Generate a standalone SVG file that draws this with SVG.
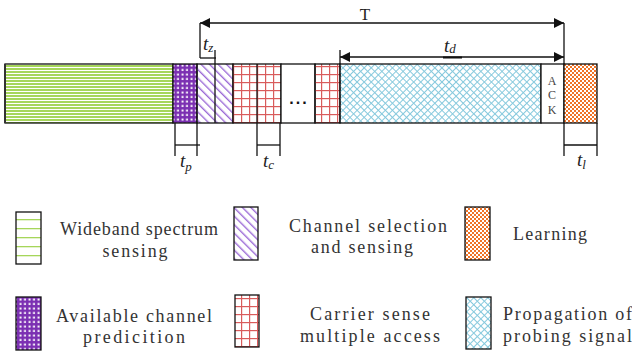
<svg xmlns="http://www.w3.org/2000/svg" width="632" height="351" viewBox="0 0 632 351">
  <defs>
    <!-- fill patterns for each phase -->
    <pattern id="pGreen" width="4" height="3" patternUnits="userSpaceOnUse" y="65">
      <rect width="4" height="2" fill="#a6d65a"/>
    </pattern>
    <pattern id="pGreenL" width="4" height="9" patternUnits="userSpaceOnUse" y="212">
      <rect y="7" width="4" height="1.3" fill="#a6d65a"/>
    </pattern>
    <pattern id="pDots" width="4.5" height="4.5" patternUnits="userSpaceOnUse">
      <rect width="4.5" height="4.5" fill="#7b2fb2"/>
      <rect x="1.5" y="1.5" width="2" height="2" fill="#ffffff"/>
    </pattern>
    <pattern id="pHatch" width="6" height="6" patternUnits="userSpaceOnUse" patternTransform="rotate(-45)">
      <rect x="0" y="0" width="1.4" height="6" fill="#9b6ad6"/>
    </pattern>
    <pattern id="pGrid" width="8" height="8" patternUnits="userSpaceOnUse" x="1" y="2">
      <rect x="0" y="0" width="1.2" height="8" fill="#d95b5b"/>
      <rect x="0" y="0" width="8" height="1.2" fill="#d95b5b"/>
    </pattern>
    <pattern id="pCross" width="5" height="5" patternUnits="userSpaceOnUse" patternTransform="rotate(45)">
      <rect x="0" y="0" width="1" height="5" fill="#86c9dd"/>
      <rect x="0" y="0" width="5" height="1" fill="#86c9dd"/>
    </pattern>
    <pattern id="pCheck" width="4" height="4" patternUnits="userSpaceOnUse">
      <rect width="4" height="4" fill="#ffffff"/>
      <rect width="2" height="2" fill="#f07326"/>
      <rect x="2" y="2" width="2" height="2" fill="#f07326"/>
    </pattern>
    <marker id="arr" viewBox="0 0 10 10" refX="10" refY="5" markerWidth="10" markerHeight="10" markerUnits="userSpaceOnUse" orient="auto-start-reverse">
      <path d="M0,0 L10,5 L0,10 z" fill="#111"/>
    </marker>
    <style>
      .edge { stroke: #111; stroke-width: 1.3; fill: none; }
      .seg { stroke: #111; stroke-width: 1.3; }
      .lbl { font-family: "Liberation Serif", "DejaVu Serif", serif; font-size: 18px; fill: #333; }
      .t { font-family: "Liberation Serif", serif; font-style: italic; font-size: 19px; fill: #222; }
      .sub { font-size: 13px; }
    </style>
  </defs>
  <rect width="632" height="351" fill="#ffffff"/>

  <!-- frame bar -->
  <g id="frame">
    <rect x="5" y="64" width="168" height="59" fill="url(#pGreen)" class="seg"/>
    <rect x="173" y="64" width="24" height="59" fill="url(#pDots)" class="seg"/>
    <rect x="197" y="64" width="36" height="59" fill="url(#pHatch)" class="seg"/>
    <line x1="215" y1="64" x2="215" y2="123" class="seg"/>
    <rect x="233" y="64" width="48" height="59" fill="url(#pGrid)" class="seg"/>
    <line x1="257" y1="64" x2="257" y2="123" class="seg"/>
    <rect x="281" y="64" width="34" height="59" fill="#ffffff" class="seg"/>
    <text x="299" y="104" text-anchor="middle" font-family="Liberation Sans, sans-serif" font-size="16" font-weight="bold" letter-spacing="2" fill="#111">...</text>
    <rect x="315" y="64" width="25" height="59" fill="url(#pGrid)" class="seg"/>
    <rect x="340" y="64" width="201" height="59" fill="url(#pCross)" class="seg"/>
    <rect x="541" y="64" width="23" height="59" fill="#ffffff" class="seg"/>
    <text font-family="Liberation Serif, serif" font-size="12" fill="#444" text-anchor="middle">
      <tspan x="552" y="85">A</tspan><tspan x="552" y="99">C</tspan><tspan x="552" y="114">K</tspan>
    </text>
    <rect x="564" y="64" width="33" height="59" fill="url(#pCheck)" class="seg"/>
    <line x1="5" y1="64" x2="5" y2="123" stroke="#333" stroke-width="2"/>
  </g>

  <!-- timing arrows and brackets -->
  <g id="connectors">
    <line x1="200" y1="23" x2="564" y2="23" class="edge" marker-start="url(#arr)" marker-end="url(#arr)"/>
    <line x1="200" y1="23" x2="200" y2="58" class="edge"/>
    <line x1="564" y1="23" x2="564" y2="64" class="edge"/>
    <line x1="200" y1="58" x2="216" y2="58" class="edge"/>
    <line x1="215" y1="50" x2="215" y2="64" class="edge"/>
    <line x1="340" y1="57" x2="564" y2="57" class="edge" marker-start="url(#arr)" marker-end="url(#arr)"/>
    <line x1="340" y1="50" x2="340" y2="64" class="edge"/>
    <rect x="443" y="56.5" width="19" height="2" fill="#111"/>
    <line x1="175" y1="123" x2="175" y2="156" class="edge"/>
    <line x1="197" y1="123" x2="197" y2="156" class="edge"/>
    <line x1="175" y1="145" x2="200" y2="145" class="edge"/>
    <line x1="257" y1="123" x2="257" y2="156" class="edge"/>
    <line x1="280" y1="123" x2="280" y2="156" class="edge"/>
    <line x1="257" y1="145" x2="280" y2="145" class="edge"/>
    <line x1="564" y1="123" x2="564" y2="156" class="edge"/>
    <line x1="597" y1="123" x2="597" y2="156" class="edge"/>
    <line x1="564" y1="145" x2="597" y2="145" class="edge"/>
  </g>

  <g id="timing-labels">
    <text x="365" y="20" text-anchor="middle" font-family="Liberation Serif, serif" font-size="17" fill="#222">T</text>
    <text x="203" y="50" class="t">t<tspan class="sub" dy="2">z</tspan></text>
    <text x="444" y="52" class="t">t<tspan class="sub" dy="1">d</tspan></text>
    <text x="180" y="167" class="t">t<tspan class="sub" dy="4">p</tspan></text>
    <text x="263" y="167" class="t">t<tspan class="sub" dy="2">c</tspan></text>
    <text x="577" y="166" class="t">t<tspan class="sub" dy="3">l</tspan></text>
  </g>

  <!-- legend -->
  <g id="legend-wideband">
    <rect x="16" y="212" width="25" height="52" fill="url(#pGreenL)" class="seg"/>
    <text class="lbl" text-anchor="middle" lengthAdjust="spacing"><tspan x="139" y="235" textLength="158">Wideband spectrum</tspan><tspan x="135" y="257" textLength="65">sensing</tspan></text>
  </g>
  <g id="legend-selection">
    <rect x="234" y="207" width="24" height="53" fill="url(#pHatch)" class="seg"/>
    <text class="lbl" text-anchor="middle"><tspan x="368" y="232" textLength="158">Channel selection</tspan><tspan x="362" y="253" textLength="102">and sensing</tspan></text>
  </g>
  <g id="legend-learning">
    <rect x="465" y="207" width="25" height="53" fill="url(#pCheck)" class="seg"/>
    <text class="lbl" x="550" y="240" text-anchor="middle" textLength="74">Learning</text>
  </g>
  <g id="legend-prediction">
    <rect x="16" y="297" width="25" height="53" fill="url(#pDots)" class="seg"/>
    <text class="lbl" text-anchor="middle"><tspan x="134" y="322" textLength="156">Available channel</tspan><tspan x="134" y="343" textLength="102">predicition</tspan></text>
  </g>
  <g id="legend-csma">
    <rect x="235" y="295" width="24" height="52" fill="url(#pGrid)" class="seg"/>
    <text class="lbl" text-anchor="middle"><tspan x="370" y="320" textLength="120">Carrier sense</tspan><tspan x="370" y="342" textLength="140">multiple access</tspan></text>
  </g>
  <g id="legend-propagation">
    <rect x="466" y="297" width="25" height="52" fill="url(#pCross)" class="seg"/>
    <text class="lbl"><tspan x="503" y="320" textLength="129">Propagation of</tspan><tspan x="503" y="342" textLength="129">probing signal</tspan></text>
  </g>
</svg>
